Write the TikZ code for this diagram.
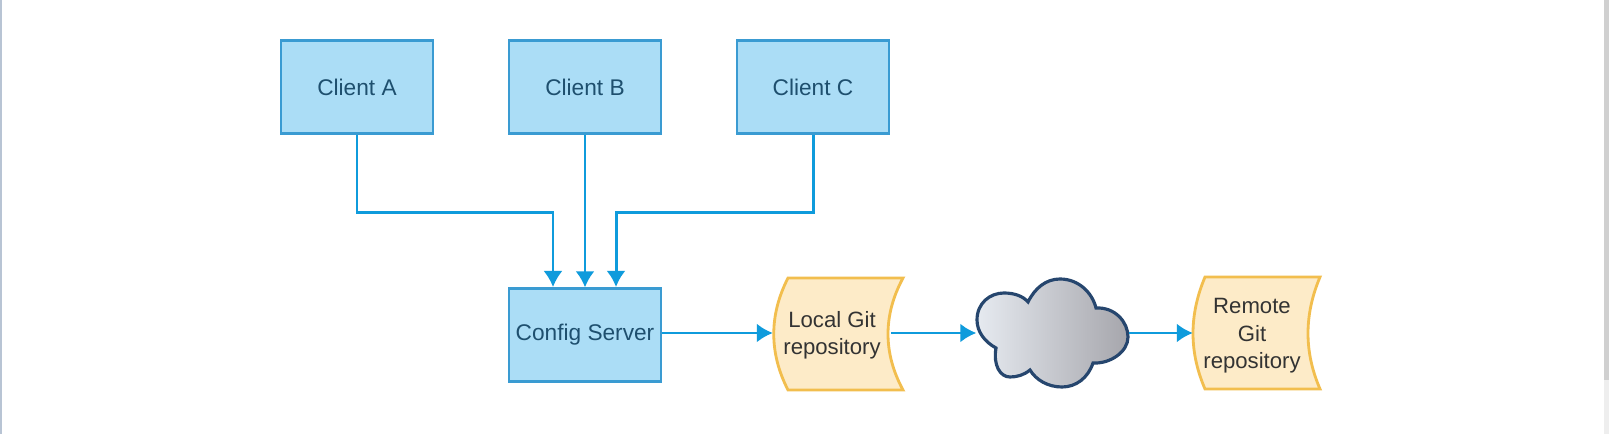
\documentclass[tikz,border=0pt]{standalone}
\usepackage{fontspec}
\setmainfont{Liberation Sans}
\usepackage{xcolor}
\usetikzlibrary{arrows.meta}
\definecolor{boxfill}{HTML}{ABDDF6}
\definecolor{boxline}{HTML}{3A9BD2}
\definecolor{boxtext}{HTML}{1E4F6E}
\definecolor{arrowblue}{HTML}{0F9BDC}
\definecolor{gitfill}{HTML}{FDEBC8}
\definecolor{gitline}{HTML}{F2BE4E}
\definecolor{cloudline}{HTML}{26466E}
\definecolor{cloudleft}{HTML}{E6EAF0}
\definecolor{cloudright}{HTML}{A6A6AC}
\definecolor{edgeleft}{HTML}{B8C4D4}
\definecolor{edgedark}{HTML}{D0D0D0}
\definecolor{edgelight}{HTML}{EEEEEE}
\tikzset{>={Latex[length=1.6mm,width=1.9mm]}}
\tikzset{
	clientbox/.style={draw=boxline,fill=boxfill,line width=0.65pt,minimum width=1.52cm,minimum height=0.93cm,inner sep=0pt,text=boxtext,font=\fontsize{6.45}{8}\selectfont},
	gitdoc/.style={draw=gitline,fill=gitfill,line width=0.8pt},
	gittext/.style={align=center,inner sep=0pt,minimum width=1.17cm,minimum height=1.12cm,text=black!80,font=\fontsize{6.3}{7.8}\selectfont},
	link/.style={draw=arrowblue,line width=0.7pt,->,arrowblue},
}
\begin{document}
\begin{tikzpicture}[x=0.01cm,y=-0.01cm]
		\useasboundingbox (0,0) rectangle (1609,434);
		\fill[white] (0,0) rectangle (1609,434);
		% window edges
		\fill[edgeleft] (0,0) rectangle (2.5,434);
		\fill[edgelight] (1604,0) rectangle (1609,434);
		\fill[edgedark] (1604,0) rectangle (1609,380);
		
		\node[clientbox] (clienta) at (357,87) {Client A};
		\node[clientbox] (clientb) at (585,87) {Client B};
		\node[clientbox] (clientc) at (813,87) {Client C};
		\node[clientbox] (server) at (585,335) {Config Server};
		
		\draw[gitdoc] (788,278) -- (903,278) .. controls (883,315) and (883,353) .. (903,390) -- (788,390) .. controls (769,353) and (769,315) .. (788,278) -- cycle;
		\node[gittext] (localgit) at (832,335) {Local Git\\repository};
		
		\draw[gitdoc] (1205,277) -- (1320,277) .. controls (1304,315) and (1304,352) .. (1320,389) -- (1205,389) .. controls (1189,352) and (1189,315) .. (1205,277) -- cycle;
		\node[gittext] (remotegit) at (1252,336) {Remote\\Git\\repository};
		
		\draw[cloudline,line width=0.9pt,left color=cloudleft,right color=cloudright] (996,348) .. controls (985,342) and (977,332) .. (977,320) .. controls (977,303) and (990,293) .. (1004,293) .. controls (1014,293) and (1023,296) .. (1028,302)
			.. controls (1035,288) and (1046,279) .. (1060,279) .. controls (1078,279) and (1092,292) .. (1096,308)
			.. controls (1115,307) and (1128,322) .. (1128,337) .. controls (1128,352) and (1110,364) .. (1093,363)
			.. controls (1088,378) and (1076,387) .. (1062,387) .. controls (1048,387) and (1036,380) .. (1030,370)
			.. controls (1024,375) and (1017,377) .. (1010,377) .. controls (1000,377) and (993,365) .. (996,348) -- cycle;
		\node[inner sep=0pt,minimum width=1.51cm,minimum height=1.1cm] (cloud) at (1052.5,333) {};
		
		% clients into server
		\coordinate (ina) at (553,287);
		\coordinate (inc) at (616,287);
		\draw[link] (clienta.south) -- ++(0,78) -| (ina);
		\draw[link] (clientb.south) -- (server.north);
		\draw[link,line width=0.85pt] (clientc.south) -- ++(0,78) -| (inc);
		\draw[link] (server.east |- cloud) -- (localgit.west |- cloud);
		\draw[link] (localgit.east |- cloud) -- (cloud.west);
		\draw[link] (cloud.east) -- (remotegit.west |- cloud);
	\end{tikzpicture}
\end{document}
